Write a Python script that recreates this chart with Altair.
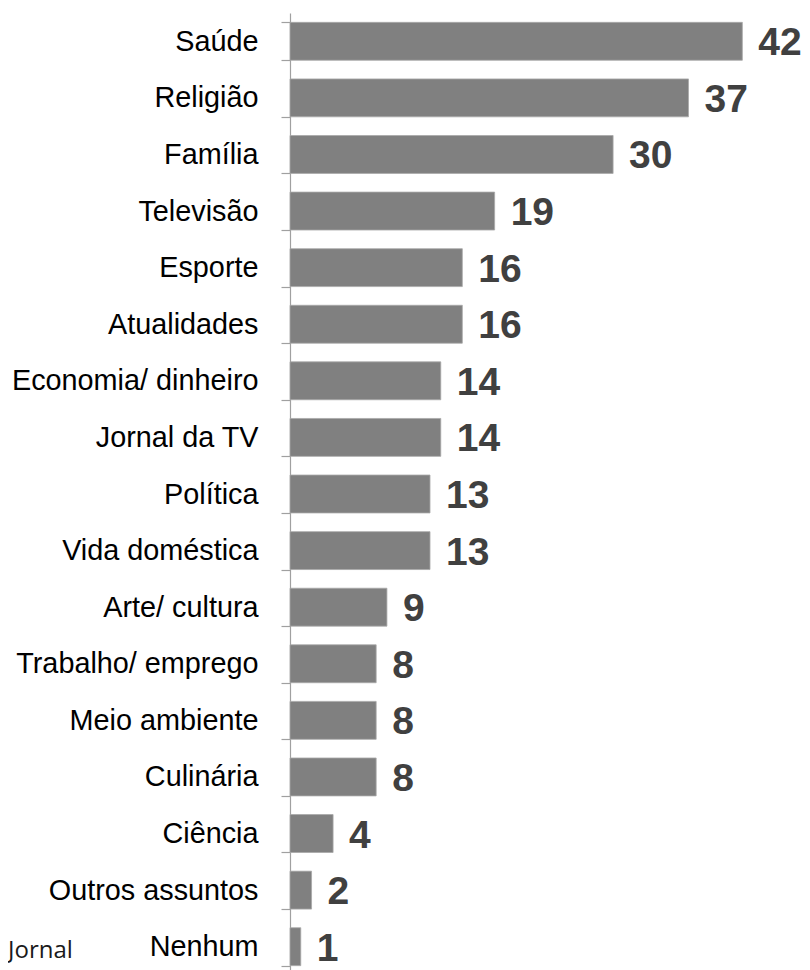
import altair as alt
import pandas as pd

categories = ["Saúde", "Religião", "Família", "Televisão", "Esporte", "Atualidades",
              "Economia/ dinheiro", "Jornal da TV", "Política", "Vida doméstica",
              "Arte/ cultura", "Trabalho/ emprego", "Meio ambiente", "Culinária",
              "Ciência", "Outros assuntos", "Nenhum"]
values = [42, 37, 30, 19, 16, 16, 14, 14, 13, 13, 9, 8, 8, 8, 4, 2, 1]
footer_text = ["Jornal"]

df = pd.DataFrame({"cat": categories, "val": values})

y_enc = alt.Y("cat:N", sort=categories, title=None,
              scale=alt.Scale(range=[0, 962], paddingInner=0.33, paddingOuter=0.165),
              axis=alt.Axis(domainColor="#a0a0a0", tickColor="#a0a0a0", tickSize=9,
                            tickBand="extent", labelPadding=23, labelFontSize=28.8,
                            labelFont="Liberation Sans", labelColor="#000000",
                            labelLimit=400, domainWidth=1.2, tickWidth=1.2))
x_enc = alt.X("val:Q", axis=None, scale=alt.Scale(domain=[0, 512 / 10.77], nice=False, zero=True))

bars = alt.Chart(df).mark_bar(color="#808080", stroke="#a8a8a8", strokeWidth=0.8).encode(
    x=x_enc, y=y_enc)

labels = alt.Chart(df).mark_text(align="left", baseline="middle", dx=16, dy=2,
                                 font="Liberation Sans", fontWeight="bold", fontSize=39,
                                 color="#404040").encode(
    x=x_enc, y=alt.Y("cat:N", sort=categories), text="val:Q")

footer = alt.Chart(pd.DataFrame({"t": footer_text})).mark_text(
    align="left", baseline="alphabetic", font="Open Sans", fontSize=24, color="#1a1a1a").encode(
    x=alt.value(-282), y=alt.value(945), text="t:N")

chart = alt.layer(bars, labels, footer).properties(
    width=512, height=957,
    autosize=alt.AutoSizeParams(type="none"),
    padding={"left": 282, "top": 5, "right": 0, "bottom": 0},
).configure_view(stroke=None)

chart.save("out.html", embed_options={"renderer": "svg", "actions": False})
